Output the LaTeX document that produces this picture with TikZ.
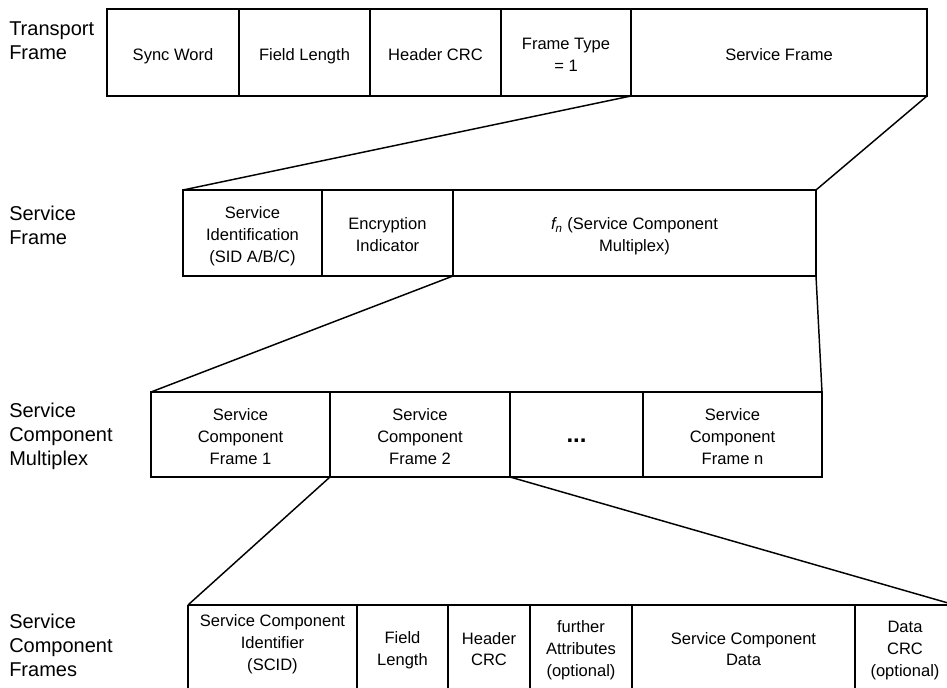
\documentclass[tikz,border=0pt]{standalone}
\usepackage{fontspec}
\setmainfont{Liberation Sans}

% One field of a frame: #1 optional style, then name, x-left, x-right, y-top, y-bottom, text.
% The invisible rules on the first and last line set the text slightly below centre.
\newcommand\fld[7][field]{%
  \pgfmathsetmacro\fldw{(#4-#3)*0.75}%
  \pgfmathsetmacro\fldh{(#6-#5)*0.75}%
  \node[#1, minimum width=\fldw pt, minimum height=\fldh pt] (#2)
    at ({(#3+#4)/2},{(#5+#6)/2})
    {\rule{0pt}{14pt}#7\rule[-2.2pt]{0pt}{2.2pt}};}

\begin{document}
\begin{tikzpicture}[x=0.75pt,y=-0.75pt,
  field/.style={draw, line width=1.5pt, rectangle, inner sep=0pt, outer sep=0pt,
    align=center, font=\fontsize{12.4}{16.3}\selectfont},
  openfield/.style={field, draw=none},
  frameline/.style={line width=1.5pt},
  link/.style={line width=1.1pt},
  rowlabel/.style={inner sep=0pt, align=left, anchor=west,
    font=\fontsize{15}{18}\selectfont}]

\useasboundingbox (0,0) rectangle (947,688);
\fill[white] (0,0) rectangle (947,688);
\clip (0,0) rectangle (947,688);

% Row labels
\node[rowlabel] (lt) at (9,41)  {Transport\\Frame};
\node[rowlabel] (ls) at (9,225) {Service\\Frame};
\node[rowlabel] (lm) at (9,436) {Service\\Component\\Multiplex};
\node[rowlabel] (lc) at (9,645) {Service\\Component\\Frames};

% Transport frame
\fld{sync}{107}{239}{9}{96}{Sync Word}
\fld{flen}{239}{370}{9}{96}{Field Length}
\fld{hcrc}{370}{501}{9}{96}{Header CRC}
\fld{ftype}{501}{631}{9}{96}{Frame Type\\= 1}
\fld{sframe}{631}{927}{9}{96}{Service Frame}

% Service frame
\fld{sid}{183}{322}{190}{276}{Service\\Identification\\(SID A/B/C)}
\fld{enc}{322}{453}{190}{276}{Encryption\\Indicator}
\fld{fn}{453}{816}{190}{276}{{\itshape f}\textsubscript{\itshape n} (Service Component\\Multiplex)}

% Service component multiplex
\fld{sc1}{151}{330}{392}{477}{Service\\Component\\Frame 1}
\fld{sc2}{330}{510}{392}{477}{Service\\Component\\Frame 2}
\fld{dots}{510}{643}{392}{477}{{\fontsize{18}{18}\selectfont\bfseries ...}}
\fld{scn}{643}{822}{392}{477}{Service\\Component\\Frame n}

% Service component frame (runs off the lower edge)
\fld[openfield]{scid}{188}{357}{605}{677}{Service Component\\Identifier\\(SCID)}
\fld[openfield]{flen4}{357}{448}{605}{689}{Field\\Length}
\fld[openfield]{hcrc4}{448}{530}{605}{689}{Header\\CRC}
\fld[openfield]{attr}{530}{632}{605}{689}{further\\Attributes\\(optional)}
\fld[openfield]{data}{632}{855}{605}{689}{Service Component\\Data}
\fld[openfield]{dcrc}{855}{955}{605}{689}{Data\\CRC\\(optional)}

\coordinate (lower) at (0,700);
\draw[frameline] (scid.north west) -- (dcrc.north east);
\foreach \f in {scid,flen4,hcrc4,attr,data,dcrc}
  \draw[frameline] (\f.north west) -- (\f.north west |- lower);

% Expansion lines between levels
\draw[link] (ftype.south east) -- (sid.north west);
\draw[link] (sframe.south east) -- (fn.north east);
\draw[link] (enc.south east) -- (sc1.north west);
\draw[link] (fn.south east) -- (scn.north east);
\draw[link] (sc1.south east) -- (scid.north west);
\draw[link] (sc2.south east) -- (dcrc.north east);
\end{tikzpicture}
\end{document}
